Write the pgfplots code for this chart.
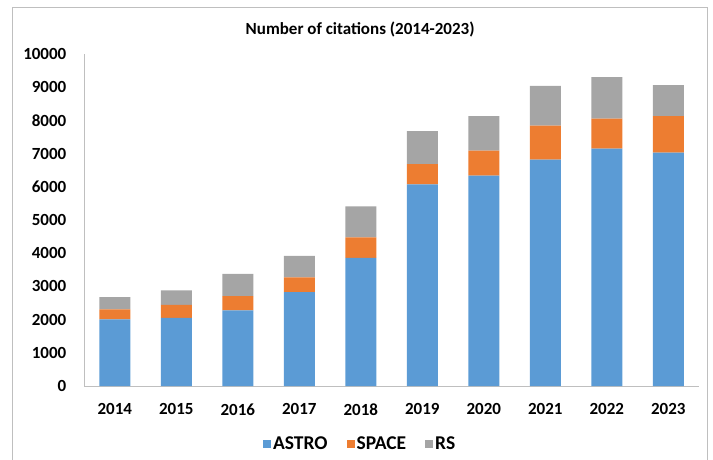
\documentclass[border=0pt]{standalone}
\usepackage{pgfplots}
\pgfplotsset{compat=1.18}
\usepackage{fontspec}
\setmainfont{Carlito}
\definecolor{astro}{HTML}{5B9BD5}
\definecolor{space}{HTML}{ED7D31}
\definecolor{rs}{HTML}{A5A5A5}
\definecolor{frame}{HTML}{BFBFBF}
\begin{document}
\begin{tikzpicture}
\useasboundingbox (0pt,0pt) rectangle (713pt,459pt);
\draw[frame, line width=0.8pt] (12pt,-2pt) -- (12pt,452pt) -- (707pt,452pt) -- (707pt,-2pt);
\begin{axis}[
  at={(84pt,73pt)}, anchor=south west,
  scale only axis, width=615pt, height=332pt,
  ybar stacked, bar width=31pt,
  xmin=-0.5, xmax=9.5, ymin=0, ymax=10000,
  xtick=data,
  xticklabels={2014,2015,2016,2017,2018,2019,2020,2021,2022,2023},
  ytick={0,1000,...,10000},
  scaled y ticks=false,
  axis x line=bottom, axis y line=left,
  axis line style={frame, -}, 
  x axis line style={-}, y axis line style={-},
  tick style={draw=none},
  /pgf/number format/assume math mode=true,
  /pgf/number format/1000 sep={},
  ticklabel style={font=\fontsize{17}{17}\selectfont\bfseries},
  yticklabel style={xshift=-12pt},
  xticklabel style={yshift=-12pt},
  title={\fontsize{17}{17}\selectfont\bfseries Number of citations (2014-2023)},
  title style={at={(0.449,1.057)}, anchor=center},
  legend style={at={(0.449,-0.175)}, anchor=center, draw=none, legend columns=3,
    font=\fontsize{19.5}{19.5}\selectfont\bfseries,
    /tikz/every even column/.append style={column sep=17pt}},
  legend image code/.code={\fill[#1] (0,-4pt) rectangle (8pt,4pt);},
  every axis plot/.append style={draw=none},
]
\addplot[fill=astro] coordinates {(0,2010) (1,2050) (2,2280) (3,2830) (4,3860) (5,6070) (6,6340) (7,6820) (8,7150) (9,7030)};
\addplot[fill=space] coordinates {(0,300) (1,390) (2,430) (3,440) (4,620) (5,610) (6,750) (7,1020) (8,900) (9,1100)};
\addplot[fill=rs] coordinates {(0,370) (1,440) (2,670) (3,650) (4,930) (5,1000) (6,1040) (7,1200) (8,1250) (9,930)};
\legend{ASTRO,SPACE,RS}
\end{axis}
\end{tikzpicture}
\end{document}
